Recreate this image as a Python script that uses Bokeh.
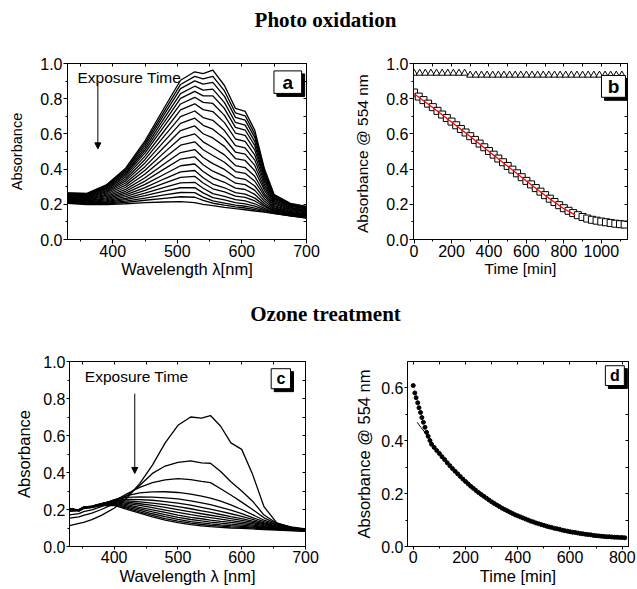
from bokeh.plotting import figure
from bokeh.models import (LinearAxis, SingleIntervalTicker, FixedTicker, PrintfTickFormatter, Range1d,
                          Label, Arrow, NormalHead, BoxAnnotation, Div)
from bokeh.layouts import column, row
from bokeh.embed import file_html
from bokeh.resources import INLINE

# ---------------- data ----------------
TITLE_TOP = "Photo oxidation"
TITLE_BOTTOM = "Ozone treatment"

# panel a: spectra during photo oxidation
A_WL = [330, 360, 390, 420, 450, 480, 505, 527, 540, 555, 573, 590, 605, 620, 635, 650, 675, 700]
A_SPECTRA = [
    [0.265, 0.262, 0.310, 0.405, 0.560, 0.750, 0.905, 0.953, 0.942, 0.962, 0.875, 0.745, 0.728, 0.620, 0.400, 0.255, 0.205, 0.188],
    [0.263, 0.260, 0.306, 0.398, 0.548, 0.731, 0.881, 0.927, 0.912, 0.927, 0.844, 0.719, 0.703, 0.599, 0.389, 0.250, 0.202, 0.185],
    [0.261, 0.258, 0.302, 0.391, 0.535, 0.712, 0.857, 0.901, 0.883, 0.893, 0.813, 0.694, 0.678, 0.579, 0.378, 0.245, 0.199, 0.182],
    [0.258, 0.255, 0.298, 0.383, 0.521, 0.691, 0.829, 0.871, 0.849, 0.854, 0.778, 0.665, 0.650, 0.556, 0.366, 0.240, 0.195, 0.179],
    [0.256, 0.253, 0.293, 0.375, 0.507, 0.669, 0.802, 0.842, 0.816, 0.816, 0.744, 0.637, 0.622, 0.533, 0.353, 0.234, 0.192, 0.175],
    [0.253, 0.250, 0.288, 0.366, 0.492, 0.645, 0.770, 0.808, 0.779, 0.773, 0.705, 0.605, 0.591, 0.508, 0.340, 0.229, 0.188, 0.172],
    [0.250, 0.247, 0.283, 0.356, 0.474, 0.618, 0.736, 0.771, 0.738, 0.727, 0.664, 0.571, 0.558, 0.480, 0.325, 0.222, 0.183, 0.168],
    [0.247, 0.243, 0.276, 0.344, 0.455, 0.589, 0.698, 0.730, 0.693, 0.677, 0.619, 0.534, 0.521, 0.451, 0.309, 0.215, 0.179, 0.164],
    [0.244, 0.240, 0.270, 0.333, 0.435, 0.559, 0.660, 0.689, 0.649, 0.627, 0.574, 0.497, 0.485, 0.421, 0.293, 0.208, 0.174, 0.159],
    [0.240, 0.236, 0.264, 0.321, 0.414, 0.527, 0.619, 0.645, 0.601, 0.577, 0.529, 0.460, 0.449, 0.391, 0.278, 0.201, 0.170, 0.155],
    [0.237, 0.232, 0.257, 0.309, 0.393, 0.495, 0.577, 0.600, 0.555, 0.523, 0.481, 0.420, 0.409, 0.359, 0.260, 0.193, 0.165, 0.150],
    [0.233, 0.228, 0.250, 0.297, 0.372, 0.463, 0.536, 0.555, 0.510, 0.477, 0.439, 0.386, 0.376, 0.331, 0.246, 0.187, 0.160, 0.146],
    [0.229, 0.225, 0.243, 0.285, 0.351, 0.430, 0.494, 0.511, 0.466, 0.431, 0.398, 0.352, 0.342, 0.304, 0.231, 0.180, 0.156, 0.142],
    [0.226, 0.221, 0.237, 0.274, 0.332, 0.401, 0.457, 0.470, 0.425, 0.388, 0.359, 0.320, 0.312, 0.279, 0.217, 0.175, 0.152, 0.139],
    [0.223, 0.218, 0.231, 0.263, 0.313, 0.371, 0.419, 0.429, 0.386, 0.350, 0.325, 0.292, 0.284, 0.256, 0.205, 0.169, 0.149, 0.136],
    [0.220, 0.214, 0.225, 0.253, 0.295, 0.345, 0.384, 0.392, 0.351, 0.315, 0.294, 0.266, 0.258, 0.235, 0.194, 0.164, 0.145, 0.133],
    [0.217, 0.212, 0.220, 0.243, 0.279, 0.320, 0.353, 0.359, 0.321, 0.288, 0.270, 0.246, 0.239, 0.219, 0.186, 0.161, 0.143, 0.130],
    [0.214, 0.209, 0.215, 0.234, 0.263, 0.296, 0.322, 0.325, 0.291, 0.261, 0.245, 0.226, 0.219, 0.203, 0.177, 0.157, 0.140, 0.128],
    [0.212, 0.206, 0.211, 0.226, 0.249, 0.275, 0.294, 0.295, 0.265, 0.238, 0.225, 0.209, 0.203, 0.189, 0.170, 0.153, 0.138, 0.126],
    [0.210, 0.204, 0.206, 0.218, 0.235, 0.253, 0.267, 0.266, 0.241, 0.219, 0.207, 0.195, 0.189, 0.178, 0.164, 0.151, 0.136, 0.124],
    [0.207, 0.202, 0.202, 0.211, 0.223, 0.234, 0.243, 0.240, 0.222, 0.206, 0.195, 0.185, 0.179, 0.170, 0.159, 0.149, 0.135, 0.123],
    [0.205, 0.199, 0.198, 0.203, 0.209, 0.213, 0.215, 0.210, 0.200, 0.192, 0.183, 0.175, 0.169, 0.162, 0.155, 0.147, 0.134, 0.122],
]

# panel b: absorbance at 554 nm vs time
B_T = list(range(0, 1126, 25))
B_SQ = [0.835, 0.812, 0.792, 0.772, 0.752, 0.731, 0.710, 0.690, 0.670, 0.649,
        0.628, 0.608, 0.587, 0.566, 0.545, 0.524, 0.503, 0.482, 0.460, 0.439,
        0.418, 0.397, 0.376, 0.354, 0.333, 0.313, 0.292, 0.272, 0.252, 0.232,
        0.213, 0.195, 0.178, 0.163, 0.150, 0.138, 0.128, 0.119, 0.112, 0.107,
        0.102, 0.098, 0.094, 0.090, 0.087, 0.085]
B_TRI_T = list(range(0, 1111, 30))
B_TRI = [0.945, 0.945, 0.945, 0.945, 0.945, 0.945, 0.945, 0.945, 0.945, 0.945,
         0.934, 0.934, 0.934, 0.934, 0.934, 0.934, 0.934, 0.934, 0.934, 0.934,
         0.934, 0.934, 0.934, 0.934, 0.934, 0.934, 0.934, 0.934, 0.934, 0.934,
         0.934, 0.934, 0.934, 0.934, 0.934, 0.934, 0.934, 0.934]
B_FIT_T = [0, 100, 200, 300, 400, 500, 600, 700, 800, 860]
B_FIT = [0.828, 0.750, 0.668, 0.585, 0.500, 0.416, 0.332, 0.250, 0.175, 0.140]

# panel c: spectra during ozone treatment
C_WL = [330, 345, 352, 365, 380, 400, 420, 440, 460, 480, 500, 520, 537, 551, 567, 583, 600, 617, 635, 655, 680, 700]
C_SPECTRA = [
    [0.113, 0.125, 0.130, 0.145, 0.168, 0.207, 0.262, 0.340, 0.440, 0.560, 0.655, 0.700, 0.694, 0.708, 0.650, 0.560, 0.525, 0.390, 0.215, 0.128, 0.100, 0.090],
    [0.153, 0.160, 0.168, 0.180, 0.200, 0.232, 0.275, 0.330, 0.395, 0.435, 0.455, 0.463, 0.452, 0.450, 0.405, 0.350, 0.300, 0.245, 0.170, 0.126, 0.104, 0.095],
    [0.171, 0.178, 0.188, 0.198, 0.215, 0.245, 0.285, 0.320, 0.345, 0.360, 0.367, 0.362, 0.352, 0.345, 0.312, 0.278, 0.240, 0.200, 0.155, 0.122, 0.102, 0.093],
    [0.190, 0.193, 0.205, 0.210, 0.225, 0.252, 0.275, 0.290, 0.295, 0.296, 0.292, 0.283, 0.272, 0.262, 0.245, 0.225, 0.200, 0.172, 0.142, 0.118, 0.100, 0.092],
    [0.195, 0.197, 0.210, 0.215, 0.228, 0.252, 0.265, 0.268, 0.267, 0.263, 0.257, 0.247, 0.236, 0.226, 0.212, 0.196, 0.178, 0.156, 0.134, 0.115, 0.099, 0.091],
    [0.198, 0.199, 0.212, 0.217, 0.230, 0.250, 0.255, 0.253, 0.250, 0.243, 0.235, 0.224, 0.212, 0.202, 0.190, 0.177, 0.163, 0.146, 0.128, 0.112, 0.097, 0.090],
    [0.200, 0.199, 0.213, 0.218, 0.232, 0.248, 0.247, 0.241, 0.235, 0.226, 0.216, 0.204, 0.193, 0.184, 0.173, 0.162, 0.151, 0.137, 0.123, 0.109, 0.096, 0.089],
    [0.202, 0.198, 0.213, 0.218, 0.232, 0.245, 0.240, 0.231, 0.222, 0.211, 0.199, 0.187, 0.177, 0.169, 0.160, 0.151, 0.141, 0.130, 0.118, 0.106, 0.095, 0.088],
    [0.203, 0.197, 0.212, 0.217, 0.231, 0.242, 0.233, 0.222, 0.210, 0.197, 0.184, 0.172, 0.163, 0.156, 0.148, 0.140, 0.132, 0.123, 0.113, 0.103, 0.093, 0.087],
    [0.204, 0.196, 0.211, 0.216, 0.229, 0.238, 0.226, 0.212, 0.198, 0.184, 0.170, 0.158, 0.150, 0.143, 0.136, 0.130, 0.124, 0.116, 0.108, 0.100, 0.091, 0.086],
    [0.205, 0.195, 0.210, 0.215, 0.227, 0.234, 0.219, 0.203, 0.187, 0.172, 0.158, 0.146, 0.138, 0.132, 0.126, 0.121, 0.116, 0.110, 0.104, 0.097, 0.090, 0.085],
    [0.205, 0.194, 0.209, 0.214, 0.225, 0.230, 0.213, 0.195, 0.177, 0.161, 0.147, 0.135, 0.128, 0.122, 0.117, 0.113, 0.109, 0.105, 0.100, 0.094, 0.088, 0.084],
    [0.206, 0.193, 0.208, 0.213, 0.223, 0.226, 0.207, 0.187, 0.168, 0.151, 0.137, 0.126, 0.119, 0.114, 0.110, 0.106, 0.103, 0.100, 0.096, 0.092, 0.087, 0.083],
    [0.206, 0.192, 0.207, 0.212, 0.221, 0.222, 0.201, 0.180, 0.160, 0.143, 0.129, 0.118, 0.112, 0.107, 0.103, 0.100, 0.098, 0.095, 0.092, 0.089, 0.085, 0.082],
]

# panel d: absorbance at 554 nm vs time (ozone)
D_T = [0, 6, 11, 17, 22, 28, 33, 39, 45, 51, 57, 64] + list(range(70, 811, 10))
D_V = [0.609, 0.581, 0.563, 0.544, 0.525, 0.507, 0.488, 0.470, 0.451, 0.432, 0.417, 0.401,
       0.387, 0.375, 0.363, 0.352, 0.340, 0.329, 0.317, 0.306, 0.295, 0.285,
       0.275, 0.265, 0.255, 0.246, 0.237, 0.228, 0.220, 0.212, 0.204, 0.197,
       0.190, 0.183, 0.176, 0.169, 0.163, 0.157, 0.151, 0.145, 0.140, 0.135,
       0.130, 0.125, 0.120, 0.116, 0.112, 0.108, 0.104, 0.100, 0.096, 0.093,
       0.089, 0.086, 0.083, 0.080, 0.077, 0.074, 0.072, 0.069, 0.067, 0.065,
       0.062, 0.060, 0.058, 0.056, 0.054, 0.053, 0.051, 0.049, 0.048, 0.046,
       0.045, 0.044, 0.042, 0.041, 0.040, 0.039, 0.038, 0.037, 0.037, 0.036,
       0.035, 0.035, 0.034, 0.034, 0.033]
D_FIT_T = [15, 30, 50, 70, 100, 150, 200, 250, 300, 400, 500, 600, 700, 810]
D_FIT = [0.470, 0.450, 0.425, 0.394, 0.352, 0.295, 0.246, 0.204, 0.169, 0.116, 0.080, 0.056, 0.041, 0.033]

# tick marks mirrored on the top / right frame edges (no labels)
WL_MIRROR = [350, 400, 450, 500, 550, 600, 650, 700]
TB_MIRROR = [100, 200, 300, 400, 500, 600, 700, 800, 900, 1000, 1100]
TD_MIRROR = [0, 100, 200, 300, 400, 500, 600, 700, 800]
Y_MIRROR = [0.1, 0.2, 0.3, 0.4, 0.5, 0.6, 0.7, 0.8, 0.9]
YD_MIRROR = [0.1, 0.2, 0.3, 0.4, 0.5, 0.6]

# ---------------- styling helpers ----------------
FONT = "Liberation Sans"


def make_fig(width, height, xr, yr, left, right, top, bottom):
    p = figure(width=width, height=height, x_range=Range1d(*xr), y_range=Range1d(*yr),
               output_backend="svg", toolbar_location=None,
               min_border_left=left, min_border_right=right,
               min_border_top=top, min_border_bottom=bottom)
    p.xgrid.visible = False
    p.ygrid.visible = False
    p.outline_line_color = "black"
    p.background_fill_color = "white"
    p.border_fill_color = "white"
    return p


def style(p, xint, yint, xlabel, ylabel, tick_px, xlabel_px, ylabel_px, xstand, ystand,
          xmirror, ymirror, tick_out=4):
    xa = p.xaxis[0]
    ya = p.yaxis[0]
    xa.ticker = SingleIntervalTicker(interval=xint, num_minor_ticks=2)
    ya.ticker = SingleIntervalTicker(interval=yint, num_minor_ticks=2)
    ya.formatter = PrintfTickFormatter(format="%.1f")
    for ax, lab, st, lp in ((xa, xlabel, xstand, xlabel_px), (ya, ylabel, ystand, ylabel_px)):
        ax.axis_label = lab
        ax.axis_label_text_font = FONT
        ax.axis_label_text_font_style = "normal"
        ax.axis_label_text_font_size = lp
        ax.axis_label_text_color = "black"
        ax.axis_label_standoff = st
        ax.major_label_text_font = FONT
        ax.major_label_text_font_size = tick_px
        ax.major_label_text_color = "black"
        ax.major_label_standoff = 1
        ax.major_tick_in = 0
        ax.major_tick_out = tick_out
        ax.minor_tick_in = 0
        ax.minor_tick_out = 2
        ax.axis_line_color = "black"
        ax.major_tick_line_color = "black"
        ax.minor_tick_line_color = "black"
    for side, mt in (("above", xmirror), ("right", ymirror)):
        ax = LinearAxis(ticker=FixedTicker(ticks=[], minor_ticks=mt),
                        major_tick_in=0, major_tick_out=0, minor_tick_in=3, minor_tick_out=0,
                        axis_line_color="black", minor_tick_line_color="black")
        p.add_layout(ax, side)


def tag(p, x0, x1, y0, y1, dx, dy, letter, size):
    p.add_layout(BoxAnnotation(left=x0 + dx, right=x1 + dx, bottom=y0 - dy, top=y1 - dy,
                               fill_color="black", fill_alpha=1.0, line_color="black", line_alpha=1.0))
    p.add_layout(BoxAnnotation(left=x0, right=x1, bottom=y0, top=y1,
                               fill_color="white", fill_alpha=1.0, line_color="black",
                               line_alpha=1.0, line_width=1))
    p.add_layout(Label(x=(x0 + x1) / 2, y=(y0 + y1) / 2, text=letter, text_align="center",
                       text_baseline="middle", text_font=FONT, text_font_style="bold",
                       text_font_size=size, text_color="black"))


def exposure(p, tx, ty, ax, ay0, ay1):
    p.add_layout(Label(x=tx, y=ty, text="Exposure Time", text_font=FONT, text_font_size="15.5px",
                       text_baseline="alphabetic", text_color="black"))
    p.add_layout(Arrow(end=NormalHead(size=6, fill_color="black", line_color="black"),
                       x_start=ax, y_start=ay0, x_end=ax, y_end=ay1,
                       line_color="black", line_width=1))


def title_div(text, height, pad_top):
    html = ('<div style="width:637px;box-sizing:border-box;text-align:center;padding-left:14px;'
            "font-family:'Liberation Serif';font-weight:bold;font-size:21px;line-height:21px;"
            f'padding-top:{pad_top}px;color:black">{text}</div>')
    return Div(text=html, width=637, height=height, margin=(0, 0, 0, 0))


# ---------------- panel a ----------------
pa = make_fig(320, 250, (330, 700), (0, 1.0), 67, 14, 23, 51)
style(pa, 100, 0.2, "Wavelength λ[nm]", "Absorbance", "16px", "16.5px", "14.5px", 0, 12,
      WL_MIRROR, Y_MIRROR)
pa.multi_line(xs=[A_WL] * len(A_SPECTRA), ys=A_SPECTRA, line_color="black", line_width=1.3)
exposure(pa, 345.5, 0.92, 377, 0.89, 0.515)
tag(pa, 649.6, 692.5, 0.830, 0.958, 4.6, 0.017, "a", "19px")

# ---------------- panel b ----------------
pb = make_fig(317, 250, (-3, 1140), (0, 1.0), 93, 10, 23, 51)
style(pb, 200, 0.2, "Time [min]", "Absorbance  @ 554 nm", "16px", "15.5px", "15.5px", 0, 12,
      TB_MIRROR, Y_MIRROR)
pb.scatter(B_TRI_T, B_TRI, marker="triangle", size=7, fill_color="white", line_color="black", line_width=1)
pb.scatter(B_T, B_SQ, marker="square", size=7, fill_color="white", line_color="black", line_width=1)
pb.line(B_FIT_T, B_FIT, line_color="red", line_width=1.3)
tag(pb, 1001, 1129, 0.808, 0.932, 16, 0.017, "b", "19px")

# ---------------- panel c ----------------
pc = make_fig(320, 254, (330, 700), (0, 1.0), 69, 15, 26, 42)
style(pc, 100, 0.2, "Wavelength λ [nm]", "Absorbance", "16px", "16.5px", "16.5px", 1, 7,
      WL_MIRROR, Y_MIRROR, tick_out=3)
pc.multi_line(xs=[C_WL] * len(C_SPECTRA), ys=C_SPECTRA, line_color="black", line_width=1.3)
exposure(pc, 354, 0.921, 432.3, 0.826, 0.395)
tag(pc, 646.2, 676.5, 0.853, 0.961, 4.7, 0.016, "c", "16px")

# ---------------- panel d ----------------
pd_ = make_fig(317, 254, (-22, 824), (0, 0.7), 87, 9, 24, 43)
style(pd_, 200, 0.2, "Time [min]", "Absorbance @ 554 nm", "16px", "16.5px", "16.5px", 1, 5,
      TD_MIRROR, YD_MIRROR, tick_out=3)
pd_.scatter(D_T, D_V, size=4, color="black")
pd_.line(D_FIT_T, D_FIT, line_color="black", line_width=1)
tag(pd_, 735.5, 808, 0.609, 0.684, 11.5, 0.011, "d", "16px")

layout = column(title_div(TITLE_TOP, 40, 10), row(pa, pb), title_div(TITLE_BOTTOM, 45, 14), row(pc, pd_))

with open("out.html", "w") as f:
    f.write(file_html(layout, INLINE))
